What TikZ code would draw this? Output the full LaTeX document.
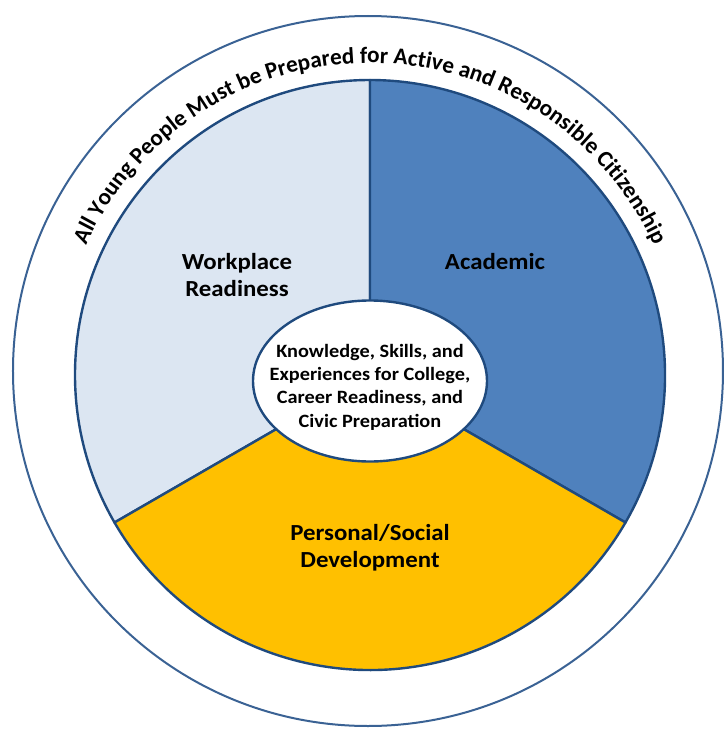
\documentclass[tikz,border=0pt]{standalone}
\usepackage{fontspec}
\setmainfont[FakeStretch=1.08]{Carlito}
\newfontfamily\bandfont{Carlito}
\usetikzlibrary{decorations.text, shapes.geometric, positioning}

\definecolor{ringline}{HTML}{1F4A7E}
\definecolor{outerline}{HTML}{3A6294}
\definecolor{workfill}{HTML}{DCE6F2}
\definecolor{acadfill}{HTML}{4F81BD}
\definecolor{persfill}{HTML}{FFC000}

\begin{document}
\begin{tikzpicture}[x=1pt, y=1pt,
    sector/.style = {draw=ringline, line width=2.4pt, line join=round},
    label/.style = {align=center, font=\fontsize{23}{27}\selectfont\bfseries},
    core/.style = {ellipse, draw=ringline, line width=2.4pt, fill=white,
                   minimum width=234pt, minimum height=161pt, inner sep=0pt},
    coretext/.style = {align=center, inner sep=0pt,
                   font=\fontsize{18.8}{23.3}\selectfont\bfseries}]
    \useasboundingbox (-370,-354) rectangle (354,375);

    % outer band
    \draw [outerline, line width=2pt] (-2,4) circle (355);

    % the three sectors
    \filldraw [sector, fill=workfill] (0,0) -- (90:295) arc [start angle=90, end angle=210, radius=295] -- cycle;
    \filldraw [sector, fill=acadfill] (0,0) -- (-30:295) arc [start angle=-30, end angle=90, radius=295] -- cycle;
    \filldraw [sector, fill=persfill] (0,0) -- (210:295) arc [start angle=210, end angle=330, radius=295] -- cycle;

    % centre
    \node [core] (core) at (0,-6) {};
    \node [coretext] (corelabel) at ([yshift=-6pt]core.center) {Knowledge, Skills, and\\Experiences for College,\\Career Readiness, and\\Civic Preparation};

    \node [label] (work) at (-133,100) {Workplace\\Readiness};
    \node [label] (acad) at (125,113) {Academic};
    \node [label] (pers) at (0,-173) {Personal/Social\\Development};

    % text round the band
    \path [decorate, decoration = {text along path, text align=center,
        text = {|\bandfont\fontsize{23.2}{28}\selectfont\bfseries|All Young People Must be Prepared for Active and Responsible Citizenship}}]
        (180:312) arc [start angle=180, end angle=0, radius=312];
\end{tikzpicture}
\end{document}
